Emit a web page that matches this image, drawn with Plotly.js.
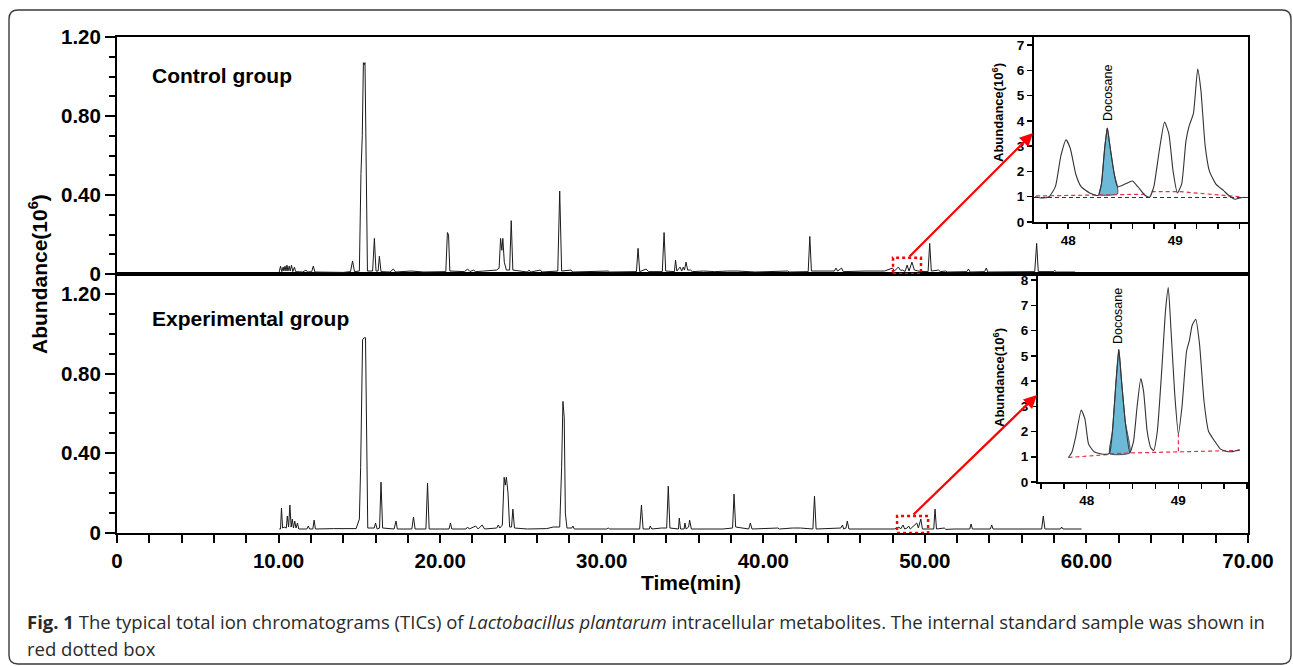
<!DOCTYPE html>
<html>
<head>
<meta charset="utf-8">
<script src="https://cdn.plot.ly/plotly-3.0.1.min.js"></script>
<style>html,body{margin:0;padding:0;background:#fff;}#chart{width:1293px;height:666px;}</style>
</head>
<body>
<div id="chart"></div>
<script>
// ---------- DATA ----------
// Control group TIC (time in min, abundance x10^6)
const ctrlTime = [10.04,10.12,10.2,10.28,10.33,10.4,10.46,10.52,10.58,10.66,10.72,10.8,10.88,10.98,11.06,11.5,11.7,11.8,12.05,12.15,12.25,13.0,14.0,14.45,14.58,14.7,15.0,15.1,15.18,15.25,15.3,15.35,15.42,15.5,15.82,15.93,16.03,16.16,16.24,16.34,16.9,17.1,17.25,18.2,19.0,20.35,20.45,20.52,20.6,21.5,21.7,21.85,22.05,22.2,22.7,23.5,23.65,23.74,23.82,23.88,23.97,24.1,24.3,24.4,24.5,25.4,25.5,25.6,26.2,26.3,27.28,27.4,27.52,28.1,28.2,29.9,30.4,30.5,32.15,32.25,32.35,32.75,32.9,33.75,33.86,33.96,34.5,34.57,34.65,34.85,34.95,35.05,35.12,35.22,35.32,35.5,35.6,36.3,37.0,37.8,38.4,39.5,41.5,41.6,42.78,42.88,42.98,44.4,44.5,44.6,44.85,44.95,45.6,46.3,47.5,48.0,48.12,48.36,48.5,48.62,48.78,48.9,49.02,49.2,49.35,49.7,50.2,50.3,50.4,50.85,50.95,51.3,51.4,52.6,52.7,52.8,53.7,53.8,53.9,56.8,56.92,57.02,57.95,58.05,58.15,59.3];
const ctrlAbund = [0.01,0.04,0.012,0.035,0.015,0.04,0.015,0.045,0.015,0.04,0.015,0.045,0.012,0.035,0.012,0.01,0.02,0.01,0.012,0.04,0.01,0.01,0.008,0.012,0.066,0.012,0.015,0.51,0.7,1.07,1.06,1.07,0.4,0.015,0.015,0.18,0.015,0.015,0.09,0.012,0.01,0.025,0.01,0.015,0.01,0.012,0.21,0.2,0.015,0.012,0.025,0.012,0.02,0.012,0.015,0.02,0.03,0.18,0.12,0.18,0.06,0.02,0.02,0.27,0.02,0.01,0.02,0.01,0.02,0.01,0.015,0.42,0.015,0.02,0.01,0.015,0.015,0.01,0.012,0.13,0.012,0.025,0.012,0.012,0.21,0.015,0.012,0.07,0.015,0.035,0.015,0.035,0.02,0.06,0.02,0.02,0.012,0.015,0.012,0.015,0.015,0.01,0.015,0.01,0.012,0.19,0.015,0.015,0.03,0.015,0.03,0.012,0.015,0.015,0.015,0.03,0.015,0.035,0.018,0.02,0.013,0.045,0.015,0.06,0.02,0.013,0.012,0.155,0.015,0.02,0.012,0.015,0.01,0.012,0.025,0.01,0.012,0.03,0.01,0.012,0.155,0.012,0.012,0.018,0.01,0.01];

// Experimental group TIC
const expTime = [10.04,10.12,10.18,10.25,10.35,10.48,10.54,10.62,10.7,10.78,10.85,10.92,11.0,11.08,11.17,11.25,11.75,11.84,11.92,12.12,12.2,12.28,13.4,14.8,15.0,15.08,15.2,15.3,15.38,15.45,15.52,15.92,16.0,16.1,16.25,16.34,16.44,17.15,17.27,17.35,18.25,18.35,18.45,19.12,19.22,19.32,20.55,20.64,20.72,21.6,21.7,21.8,22.2,22.35,22.6,22.75,23.5,23.6,23.7,23.85,23.96,24.03,24.1,24.2,24.3,24.42,24.5,24.6,25.4,26.6,27.0,27.4,27.52,27.6,27.68,27.75,27.85,28.15,28.22,28.3,30.3,30.4,30.5,32.35,32.46,32.56,32.95,33.0,33.1,33.7,34.02,34.12,34.22,34.75,34.8,34.88,35.1,35.15,35.22,35.38,35.44,35.55,36.6,37.5,38.1,38.19,38.29,39.1,39.2,39.3,40.9,41.0,41.8,42.3,43.07,43.17,43.27,44.8,44.9,44.98,45.12,45.2,45.3,46.5,48.1,48.3,48.4,48.5,48.65,48.75,48.9,49.0,49.1,49.5,49.6,49.75,49.85,50.55,50.63,50.72,51.2,51.3,51.8,52.78,52.86,52.94,54.05,54.14,54.22,57.23,57.33,57.43,58.4,58.46,58.55,59.7];
const expAbund = [0.02,0.02,0.125,0.025,0.03,0.025,0.085,0.03,0.14,0.03,0.07,0.025,0.06,0.025,0.05,0.02,0.02,0.035,0.02,0.02,0.065,0.02,0.022,0.022,0.07,0.33,0.97,0.98,0.98,0.4,0.025,0.025,0.05,0.02,0.025,0.255,0.025,0.02,0.06,0.02,0.02,0.08,0.02,0.02,0.25,0.02,0.02,0.05,0.02,0.02,0.03,0.02,0.035,0.02,0.04,0.02,0.025,0.04,0.025,0.04,0.28,0.24,0.28,0.2,0.03,0.03,0.12,0.025,0.02,0.022,0.03,0.03,0.33,0.66,0.58,0.1,0.025,0.025,0.035,0.02,0.02,0.025,0.02,0.02,0.14,0.02,0.02,0.035,0.02,0.025,0.025,0.235,0.025,0.02,0.075,0.02,0.02,0.05,0.02,0.03,0.065,0.02,0.02,0.02,0.025,0.195,0.03,0.02,0.05,0.02,0.025,0.02,0.025,0.025,0.02,0.185,0.02,0.025,0.04,0.02,0.025,0.06,0.02,0.02,0.02,0.025,0.03,0.02,0.04,0.02,0.025,0.035,0.02,0.05,0.025,0.07,0.02,0.02,0.12,0.02,0.025,0.018,0.02,0.02,0.045,0.02,0.02,0.04,0.02,0.02,0.085,0.02,0.02,0.03,0.02,0.02];

// Control inset (zoom 47.7-49.7 min)
const ctrlInsetTime = [47.69,47.75,47.82,47.88,47.93,47.98,48.02,48.07,48.12,48.2,48.28,48.31,48.34,48.365,48.39,48.43,48.46,48.53,48.6,48.65,48.72,48.76,48.8,48.85,48.9,48.94,48.98,49.02,49.06,49.1,49.13,49.17,49.21,49.24,49.28,49.32,49.38,49.45,49.5,49.56,49.6,49.65];
const ctrlInsetAbund = [1.0,0.95,1.0,1.4,2.6,3.25,2.9,1.9,1.4,1.15,1.05,1.5,2.9,3.72,3.0,1.9,1.4,1.5,1.62,1.4,1.05,0.98,1.4,2.8,3.95,3.5,2.0,1.15,1.5,3.2,3.8,4.3,6.05,5.2,3.0,2.0,1.5,1.25,1.05,0.9,0.95,0.98];
const ctrlDocoTime = [48.29,48.31,48.34,48.365,48.39,48.43,48.46,48.46,48.29];
const ctrlDocoAbund = [1.08,1.5,2.9,3.72,3.0,1.9,1.4,1.11,1.08];
const ctrlBaseTime = [47.7,48.74,null,48.78,49.05,49.6];
const ctrlBaseAbund = [1.03,1.1,null,1.2,1.2,1.0];
const ctrlRefTime = [47.68,49.68];
const ctrlRefAbund = [0.97,0.97];

// Experimental inset
const expInsetTime = [47.8,47.84,47.88,47.94,47.98,48.02,48.08,48.15,48.22,48.25,48.28,48.32,48.35,48.38,48.42,48.47,48.51,48.55,48.59,48.62,48.66,48.7,48.73,48.77,48.82,48.86,48.89,48.92,48.96,49.0,49.04,49.09,49.12,49.15,49.19,49.23,49.28,49.33,49.4,49.46,49.52,49.58,49.67];
const expInsetAbund = [0.97,1.2,1.8,2.85,2.5,1.5,1.2,1.12,1.1,1.15,2.0,4.0,5.25,4.0,2.4,1.15,1.6,3.0,4.1,3.6,2.0,1.35,1.25,2.0,4.5,6.8,7.7,6.0,3.5,1.9,3.0,5.2,5.6,6.2,6.45,5.5,3.2,2.0,1.6,1.3,1.22,1.2,1.28];
const expDocoTime = [48.25,48.28,48.32,48.35,48.38,48.42,48.47,48.25];
const expDocoAbund = [1.12,2.0,4.0,5.25,4.0,2.4,1.15,1.12];
const expBaseTime = [47.8,48.22,48.25,48.47,49.67,null,49.0,49.0];
const expBaseAbund = [0.97,1.08,1.12,1.15,1.25,null,1.22,1.9];

// Tick values / labels
const mainXTicks = [0,2,4,6,8,10,12,14,16,18,20,22,24,26,28,30,32,34,36,38,40,42,44,46,48,50,52,54,56,58,60,62,64,66,68,70];
const mainXLabels = mainXTicks.map(v => v % 10 === 0 ? (v === 0 ? '0' : v.toFixed(2)) : '');
const mainYTicks = [0,0.4,0.8,1.2];
const mainYLabels = ['0','0.40','0.80','1.20'];
const mainYMinor = [0.1,0.2,0.3,0.5,0.6,0.7,0.9,1.0,1.1];
const topInsetXTicks = [47.8,48.0,48.2,48.4,48.6,48.8,49.0,49.2,49.4,49.6];
const topInsetXLabels = ['','48','','','','','49','','',''];
const topInsetYTicks = [0,1,2,3,4,5,6,7];
const botInsetXTicks = [47.5,47.75,48.0,48.25,48.5,48.75,49.0,49.25,49.5,49.75];
const botInsetXLabels = ['','','48','','','','49','','',''];
const botInsetYTicks = [0,1,2,3,4,5,6,7,8];

// ---------- LAYOUT ----------
const W = 1293, H = 666;
const px = x => x / W;
const py = y => 1 - y / H;
const FONT = 'Liberation Sans, Arial, Helvetica, sans-serif';
const bold = (s) => ({family: FONT, size: s, color: '#000', weight: 700});
const CAPFONT = {family: 'Open Sans, Noto Sans, sans-serif', size: 18.5, color: '#2a2a2a'};

const lineStyle = {color: '#1a1a1a', width: 1};
const insetLine = {color: '#333', width: 1.1, shape: 'spline', smoothing: 0.5};
const traces = [
  {x: ctrlTime, y: ctrlAbund, xaxis: 'x2', yaxis: 'y2', mode: 'lines', line: lineStyle, hoverinfo: 'skip'},
  {x: expTime, y: expAbund, xaxis: 'x', yaxis: 'y', mode: 'lines', line: lineStyle, hoverinfo: 'skip'},
  // control inset
  {x: ctrlRefTime, y: ctrlRefAbund, xaxis: 'x3', yaxis: 'y3', mode: 'lines', line: {color: '#333', width: 1.2, dash: '4px,3px'}},
  {x: ctrlDocoTime, y: ctrlDocoAbund, xaxis: 'x3', yaxis: 'y3', mode: 'lines', fill: 'toself', fillcolor: '#6cbad8', line: {color: '#2a2a2a', width: 0.8, shape: 'spline', smoothing: 0.5}},
  {x: ctrlBaseTime, y: ctrlBaseAbund, xaxis: 'x3', yaxis: 'y3', mode: 'lines', line: {color: '#e0304a', width: 1.2, dash: '4px,3px'}},
  {x: ctrlInsetTime, y: ctrlInsetAbund, xaxis: 'x3', yaxis: 'y3', mode: 'lines', line: insetLine},
  // experimental inset
  {x: expDocoTime, y: expDocoAbund, xaxis: 'x4', yaxis: 'y4', mode: 'lines', fill: 'toself', fillcolor: '#6cbad8', line: {color: '#2a2a2a', width: 0.8, shape: 'spline', smoothing: 0.5}},
  {x: expBaseTime, y: expBaseAbund, xaxis: 'x4', yaxis: 'y4', mode: 'lines', line: {color: '#e0304a', width: 1.2, dash: '4px,3px'}},
  {x: expInsetTime, y: expInsetAbund, xaxis: 'x4', yaxis: 'y4', mode: 'lines', line: insetLine}
];

const axBase = {showline: true, linewidth: 2, linecolor: '#000', mirror: true, showgrid: false, zeroline: false, fixedrange: true};

const layout = {
  width: W, height: H,
  margin: {l: 0, r: 0, t: 0, b: 0},
  paper_bgcolor: '#fff', plot_bgcolor: 'rgba(0,0,0,0)',
  showlegend: false,
  xaxis: Object.assign({}, axBase, {domain: [px(117), px(1248)], anchor: 'y', range: [0, 70],
    tickmode: 'array', tickvals: mainXTicks, ticktext: mainXLabels, ticks: 'outside', ticklen: 8, tickwidth: 2, tickcolor: '#000',
    tickfont: bold(20.5)}),
  yaxis: Object.assign({}, axBase, {domain: [py(533), py(274)], anchor: 'x', range: [0, 1.2995],
    tickmode: 'array', tickvals: mainYTicks, ticktext: mainYLabels, ticks: 'outside', ticklen: 10, tickwidth: 2, tickcolor: '#000',
    minor: {tickmode: 'array', tickvals: mainYMinor, ticks: 'outside', ticklen: 6, tickwidth: 2, tickcolor: '#000'},
    tickfont: bold(20.5)}),
  xaxis2: Object.assign({}, axBase, {domain: [px(117), px(1248)], anchor: 'y2', range: [0, 70], showticklabels: false, ticks: ''}),
  yaxis2: Object.assign({}, axBase, {domain: [py(274), py(37)], anchor: 'x2', range: [0, 1.2],
    tickmode: 'array', tickvals: mainYTicks, ticktext: mainYLabels, ticks: 'outside', ticklen: 10, tickwidth: 2, tickcolor: '#000',
    minor: {tickmode: 'array', tickvals: mainYMinor, ticks: 'outside', ticklen: 6, tickwidth: 2, tickcolor: '#000'},
    tickfont: bold(20.5)}),
  xaxis3: Object.assign({}, axBase, {domain: [px(1034), px(1248)], anchor: 'y3', range: [47.68, 49.68],
    tickmode: 'array', tickvals: topInsetXTicks, ticktext: topInsetXLabels, ticks: 'outside', ticklen: 5, tickwidth: 1.5, tickcolor: '#000',
    tickfont: bold(13.5)}),
  yaxis3: Object.assign({}, axBase, {domain: [py(222), py(37)], anchor: 'x3', range: [0, 7.32],
    tickmode: 'array', tickvals: topInsetYTicks, ticks: 'outside', ticklen: 5, tickwidth: 1.5, tickcolor: '#000',
    tickfont: bold(13.5)}),
  xaxis4: Object.assign({}, axBase, {domain: [px(1038), px(1248)], anchor: 'y4', range: [47.468, 49.76],
    tickmode: 'array', tickvals: botInsetXTicks, ticktext: botInsetXLabels, ticks: 'outside', ticklen: 5, tickwidth: 1.5, tickcolor: '#000',
    tickfont: bold(13.5)}),
  yaxis4: Object.assign({}, axBase, {domain: [py(482), py(274)], anchor: 'x4', range: [0, 8.24],
    tickmode: 'array', tickvals: botInsetYTicks, ticks: 'outside', ticklen: 5, tickwidth: 1.5, tickcolor: '#000',
    tickfont: bold(13.5)}),
  shapes: [
    // outer rounded frame
    {type: 'path', xref: 'paper', yref: 'paper', layer: 'below',
     path: `M ${px(18)} ${py(10)} L ${px(1282)} ${py(10)} Q ${px(1291)} ${py(10)} ${px(1291)} ${py(19)} L ${px(1291)} ${py(655)} Q ${px(1291)} ${py(664)} ${px(1282)} ${py(664)} L ${px(18)} ${py(664)} Q ${px(9)} ${py(664)} ${px(9)} ${py(655)} L ${px(9)} ${py(19)} Q ${px(9)} ${py(10)} ${px(18)} ${py(10)} Z`,
     line: {color: '#3a3a3a', width: 1.4}},
    // red dotted boxes
    {type: 'rect', xref: 'x2', yref: 'y2', x0: 48.03, x1: 49.76, y0: 0.0, y1: 0.082, line: {color: '#ff0000', width: 2.5, dash: 'dot'}},
    {type: 'rect', xref: 'x', yref: 'y', x0: 48.28, x1: 50.2, y0: 0.0, y1: 0.085, line: {color: '#ff0000', width: 2.5, dash: 'dot'}}
  ],
  annotations: [
    {text: 'Control group', xref: 'paper', yref: 'paper', x: px(150), y: py(76), xanchor: 'left', yanchor: 'middle', showarrow: false, font: bold(21)},
    {text: 'Experimental group', xref: 'paper', yref: 'paper', x: px(150), y: py(318), xanchor: 'left', yanchor: 'middle', showarrow: false, font: bold(21)},
    {text: 'Time(min)', xref: 'paper', yref: 'paper', x: px(691), y: py(582), xanchor: 'center', yanchor: 'middle', showarrow: false, font: bold(21)},
    {text: 'Abundance(10<sup>6</sup>)', xref: 'paper', yref: 'paper', x: px(38), y: py(274), textangle: -90, xanchor: 'center', yanchor: 'middle', showarrow: false, font: bold(21)},
    {text: 'Abundance(10<sup>6</sup>)', xref: 'paper', yref: 'paper', x: px(998), y: py(113), textangle: -90, xanchor: 'center', yanchor: 'middle', showarrow: false, font: bold(13)},
    {text: 'Abundance(10<sup>6</sup>)', xref: 'paper', yref: 'paper', x: px(999), y: py(378), textangle: -90, xanchor: 'center', yanchor: 'middle', showarrow: false, font: bold(13)},
    {text: 'Docosane', xref: 'x3', yref: 'y3', x: 48.37, y: 5.1, textangle: -90, xanchor: 'center', yanchor: 'middle', showarrow: false, font: {family: FONT, size: 12.5, color: '#000'}},
    {text: 'Docosane', xref: 'x4', yref: 'y4', x: 48.34, y: 6.57, textangle: -90, xanchor: 'center', yanchor: 'middle', showarrow: false, font: {family: FONT, size: 12.5, color: '#000'}},
    // red arrows
    {text: '', xref: 'paper', yref: 'paper', x: px(1033), y: py(133), ax: -125, ay: 125, showarrow: true, arrowhead: 2, arrowsize: 1.2, arrowwidth: 2.2, arrowcolor: '#ff0000', standoff: 0},
    {text: '', xref: 'paper', yref: 'paper', x: px(1037), y: py(395), ax: -125, ay: 121, showarrow: true, arrowhead: 2, arrowsize: 1.2, arrowwidth: 2.2, arrowcolor: '#ff0000', standoff: 0},
    // caption
    {text: '<b>Fig. 1</b> The typical total ion chromatograms (TICs) of <i>Lactobacillus plantarum</i> intracellular metabolites. The internal standard sample was shown in',
     xref: 'paper', yref: 'paper', x: px(25), y: py(621), xanchor: 'left', yanchor: 'middle', showarrow: false, font: CAPFONT},
    {text: 'red dotted box', xref: 'paper', yref: 'paper', x: px(25), y: py(648), xanchor: 'left', yanchor: 'middle', showarrow: false, font: CAPFONT}
  ]
};

Plotly.newPlot('chart', traces, layout, {displayModeBar: false, staticPlot: true});
</script>
</body>
</html>
